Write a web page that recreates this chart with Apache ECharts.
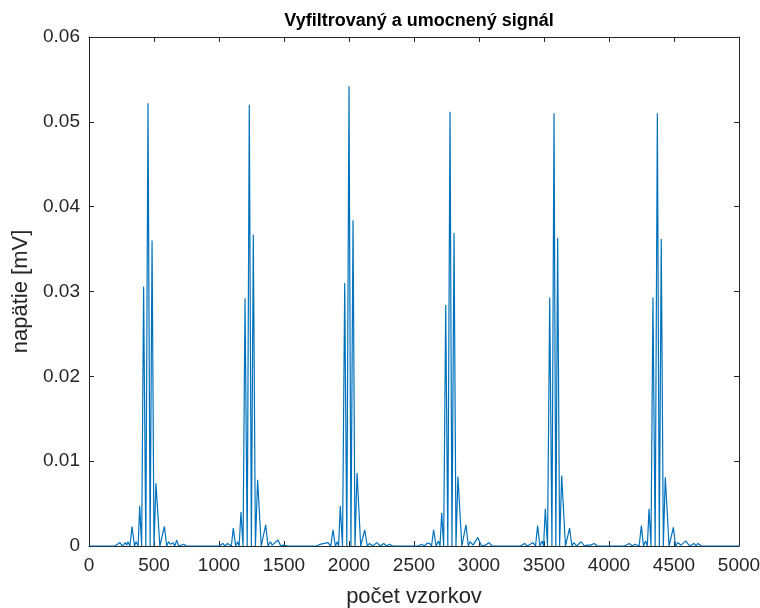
<!DOCTYPE html>
<html>
<head>
<meta charset="utf-8">
<script src="https://cdn.jsdelivr.net/npm/echarts@6/dist/echarts.min.js"></script>
<style>html,body{margin:0;padding:0;background:#fff;overflow:hidden;}#c{width:760px;height:608px;}</style>
</head>
<body>
<div id="c"></div>
<script>
const titleText = 'Vyfiltrovaný a umocnený signál';
const xName = 'počet vzorkov';
const yName = 'napätie [mV]';
const xTicks = [0, 500, 1000, 1500, 2000, 2500, 3000, 3500, 4000, 4500, 5000];
const yTicks = [0, 0.01, 0.02, 0.03, 0.04, 0.05, 0.06];

const edgeX = [0, 4999];
const edgeY = [0, 0];

const beat1X = [200,238,255,280,290,300,315,331,350,362,378,390,405,420,437,454,470,485,500,515,545,580,598,612,628,645,660,674,690,705,730,750];
const beat1Y = [0,0.0004,0,0.0004,0.0001,0.0005,0,0.0023,0,0.0005,0,0.0047,0,0.0306,0,0.0522,0,0.0360,0,0.0074,0,0.0023,0,0.0005,0.0002,0.0004,0,0.0007,0,0.0002,0.0002,0];

const beat2X = [1000,1030,1045,1065,1080,1095,1110,1128,1143,1155,1169,1185,1200,1217,1233,1249,1264,1280,1297,1325,1359,1377,1395,1410,1425,1454,1475,1495,1510,1530];
const beat2Y = [0,0.0003,0,0.0003,0.0004,0,0.0021,0,0.0005,0,0.0040,0,0.0292,0,0.0520,0,0.0367,0,0.0078,0,0.0025,0,0.0005,0.0001,0.0003,0.0007,0,0.0001,0.0003,0];

const beat3X = [1750,1777,1790,1810,1838,1860,1877,1895,1910,1920,1933,1950,1967,1983,2000,2015,2031,2046,2062,2090,2121,2140,2159,2180,2215,2240,2267,2290,2313,2335];
const beat3Y = [0,0.0002,0,0.0003,0.0004,0,0.0019,0,0.0005,0,0.0047,0,0.0310,0,0.0542,0,0.0384,0,0.0086,0,0.0019,0,0.0003,0,0.0004,0,0.0003,0,0.0002,0];

const beat4X = [2530,2560,2580,2600,2620,2635,2651,2670,2688,2700,2713,2728,2744,2760,2777,2792,2808,2823,2838,2868,2900,2918,2931,2955,2990,3020,3050,3077,3100];
const beat4Y = [0,0.0002,0,0.0003,0.0003,0,0.0019,0,0.0006,0,0.0039,0,0.0284,0,0.0512,0,0.0369,0,0.0082,0,0.0025,0,0.0005,0.0001,0.0010,0,0.0001,0.0004,0];

const beat5X = [3320,3351,3370,3395,3415,3435,3451,3468,3485,3497,3510,3527,3544,3561,3577,3591,3605,3620,3636,3665,3697,3715,3730,3750,3787,3810,3830,3860,3885,3910];
const beat5Y = [0,0.0003,0,0.0002,0.0004,0,0.0024,0,0.0006,0,0.0044,0,0.0293,0,0.0510,0,0.0363,0,0.0083,0,0.0021,0,0.0004,0,0.0005,0,0.0001,0.0001,0.0003,0];

const beat6X = [4120,4156,4180,4200,4213,4232,4249,4265,4282,4295,4308,4323,4338,4355,4372,4387,4402,4418,4433,4462,4495,4512,4528,4555,4590,4620,4654,4670,4685,4710];
const beat6Y = [0,0.0003,0,0.0002,0.0003,0,0.0024,0,0.0006,0,0.0044,0,0.0293,0,0.0510,0,0.0362,0,0.0081,0,0.0022,0,0.0004,0.0001,0.0006,0,0.0003,0,0.0003,0];

const beatsX = [beat1X, beat2X, beat3X, beat4X, beat5X, beat6X];
const beatsY = [beat1Y, beat2Y, beat3Y, beat4Y, beat5Y, beat6Y];

const points = [[edgeX[0], edgeY[0]]];
beatsX.forEach((bx, i) => bx.forEach((x, j) => points.push([x, beatsY[i][j]])));
points.push([edgeX[1], edgeY[1]]);

const FONT = 'Liberation Sans';
const AX = '#262626';
const chart = echarts.init(document.getElementById('c'), null, {renderer: 'canvas'});
const axisCommon = {
  axisLine: {show: true, onZero: false, lineStyle: {color: AX, width: 1}},
  axisTick: {show: true, inside: true, length: 5, lineStyle: {color: AX, width: 1}},
  splitLine: {show: false}
};
chart.setOption({
  animation: false,
  backgroundColor: '#ffffff',
  title: {
    text: titleText, left: 414, top: 7, textAlign: 'center',
    textStyle: {fontFamily: FONT, fontSize: 18, fontWeight: 'bold', color: '#000'}
  },
  grid: {left: 89, right: 21, top: 37, bottom: 62, containLabel: false, outerBoundsMode: 'none'},
  xAxis: [
    Object.assign({
      type: 'value', min: 0, max: 5000, interval: 500, position: 'bottom',
      name: xName, nameLocation: 'middle', nameGap: 40,
      nameTextStyle: {fontFamily: FONT, fontSize: 22, color: AX},
      axisLabel: {fontFamily: FONT, fontSize: 19, color: AX, margin: 10,
        formatter: v => xTicks.includes(v) ? String(v) : ''}
    }, axisCommon),
    Object.assign({
      type: 'value', min: 0, max: 5000, interval: 500, position: 'top',
      axisLabel: {show: false}
    }, axisCommon)
  ],
  yAxis: [
    Object.assign({
      type: 'value', min: 0, max: 0.06, interval: 0.01, position: 'left',
      name: yName, nameLocation: 'middle', nameGap: 54,
      nameTextStyle: {fontFamily: FONT, fontSize: 22, color: AX},
      axisLabel: {fontFamily: FONT, fontSize: 19, color: AX, margin: 9,
        formatter: v => { const t = yTicks.find(k => Math.abs(k - v) < 1e-9); return t === undefined ? '' : String(t); }}
    }, axisCommon),
    Object.assign({
      type: 'value', min: 0, max: 0.06, interval: 0.01, position: 'right',
      axisLabel: {show: false}
    }, axisCommon)
  ],
  series: [{
    type: 'line', data: points, showSymbol: false, symbol: 'none',
    lineStyle: {color: '#0072BD', width: 1.2}, clip: true
  }]
});
</script>
</body>
</html>
